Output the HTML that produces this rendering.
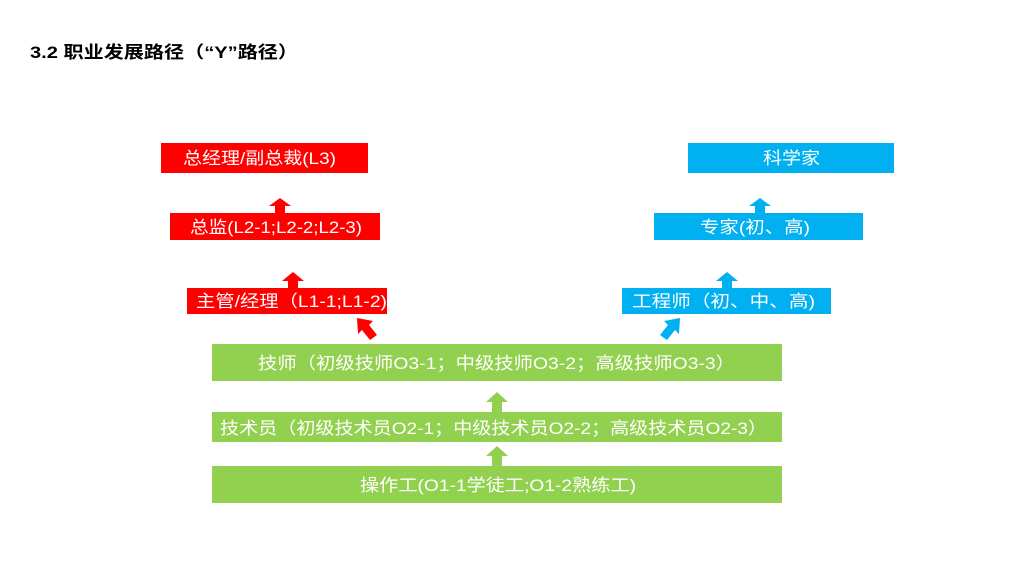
<!DOCTYPE html>
<html><head><meta charset="utf-8"><style>
body{margin:0;background:#fff;}
svg text{font-family:"Liberation Sans","Noto Sans CJK SC",sans-serif;}
</style></head><body>
<svg width="1024" height="576" viewBox="0 0 1024 576" xmlns="http://www.w3.org/2000/svg">
<rect width="1024" height="576" fill="#fff"/>
<text x="30" y="58" font-size="17" font-weight="bold" fill="#000" textLength="268" lengthAdjust="spacingAndGlyphs">3.2 职业发展路径（“Y”路径）</text>
<g fill="#ff0000">
<rect x="161" y="143" width="207" height="30"/>
<rect x="170" y="213" width="210" height="27"/>
<rect x="187" y="288" width="200" height="26"/>
<polygon points="275,213 275,206 269,206 280,198 291,206 285,206 285,213"/>
<polygon points="288,288 288,281 282,281 293,272 304,281 298,281 298,288"/>
<polygon points="370,340 362,330 358,334 357,318 373,321 369,325 377,335"/>
</g>
<g fill="#00b0f0">
<rect x="688" y="143" width="206" height="30"/>
<rect x="654" y="213" width="209" height="27"/>
<rect x="622" y="288" width="209" height="26"/>
<polygon points="755,213 755,206 749,206 760,198 771,206 765,206 765,213"/>
<polygon points="722,288 722,281 716,281 727,272 738,281 732,281 732,288"/>
<polygon points="660,335 668,325 664,321 680,318 679,334 675,330 667,340"/>
</g>
<g fill="#92d050">
<rect x="212" y="344" width="570" height="37"/>
<rect x="212" y="412" width="570" height="30"/>
<rect x="212" y="466" width="570" height="37"/>
<polygon points="492,412 492,402 486,402 497,392 508,402 502,402 502,412"/>
<polygon points="492,466 492,456 486,456 497,446 508,456 502,456 502,466"/>
</g>
<g fill="#fff" font-size="17" lengthAdjust="spacingAndGlyphs">
<text x="183" y="164" textLength="153" lengthAdjust="spacingAndGlyphs">总经理/副总裁(L3)</text>
<text x="190" y="233" textLength="172" lengthAdjust="spacingAndGlyphs">总监(L2-1;L2-2;L2-3)</text>
<text x="196" y="307" textLength="191" lengthAdjust="spacingAndGlyphs">主管/经理（L1-1;L1-2)</text>
<text x="763" y="164" textLength="57" lengthAdjust="spacingAndGlyphs">科学家</text>
<text x="700" y="233" textLength="110" lengthAdjust="spacingAndGlyphs">专家(初、高)</text>
<text x="632" y="307" textLength="183" lengthAdjust="spacingAndGlyphs">工程师（初、中、高)</text>
<text x="258" y="369" textLength="477" lengthAdjust="spacingAndGlyphs">技师（初级技师O3-1；中级技师O3-2；高级技师O3-3）</text>
<text x="220" y="434" textLength="547" lengthAdjust="spacingAndGlyphs">技术员（初级技术员O2-1；中级技术员O2-2；高级技术员O2-3）</text>
<text x="360" y="491" textLength="276" lengthAdjust="spacingAndGlyphs">操作工(O1-1学徒工;O1-2熟练工)</text>
</g>
</svg>
</body></html>
